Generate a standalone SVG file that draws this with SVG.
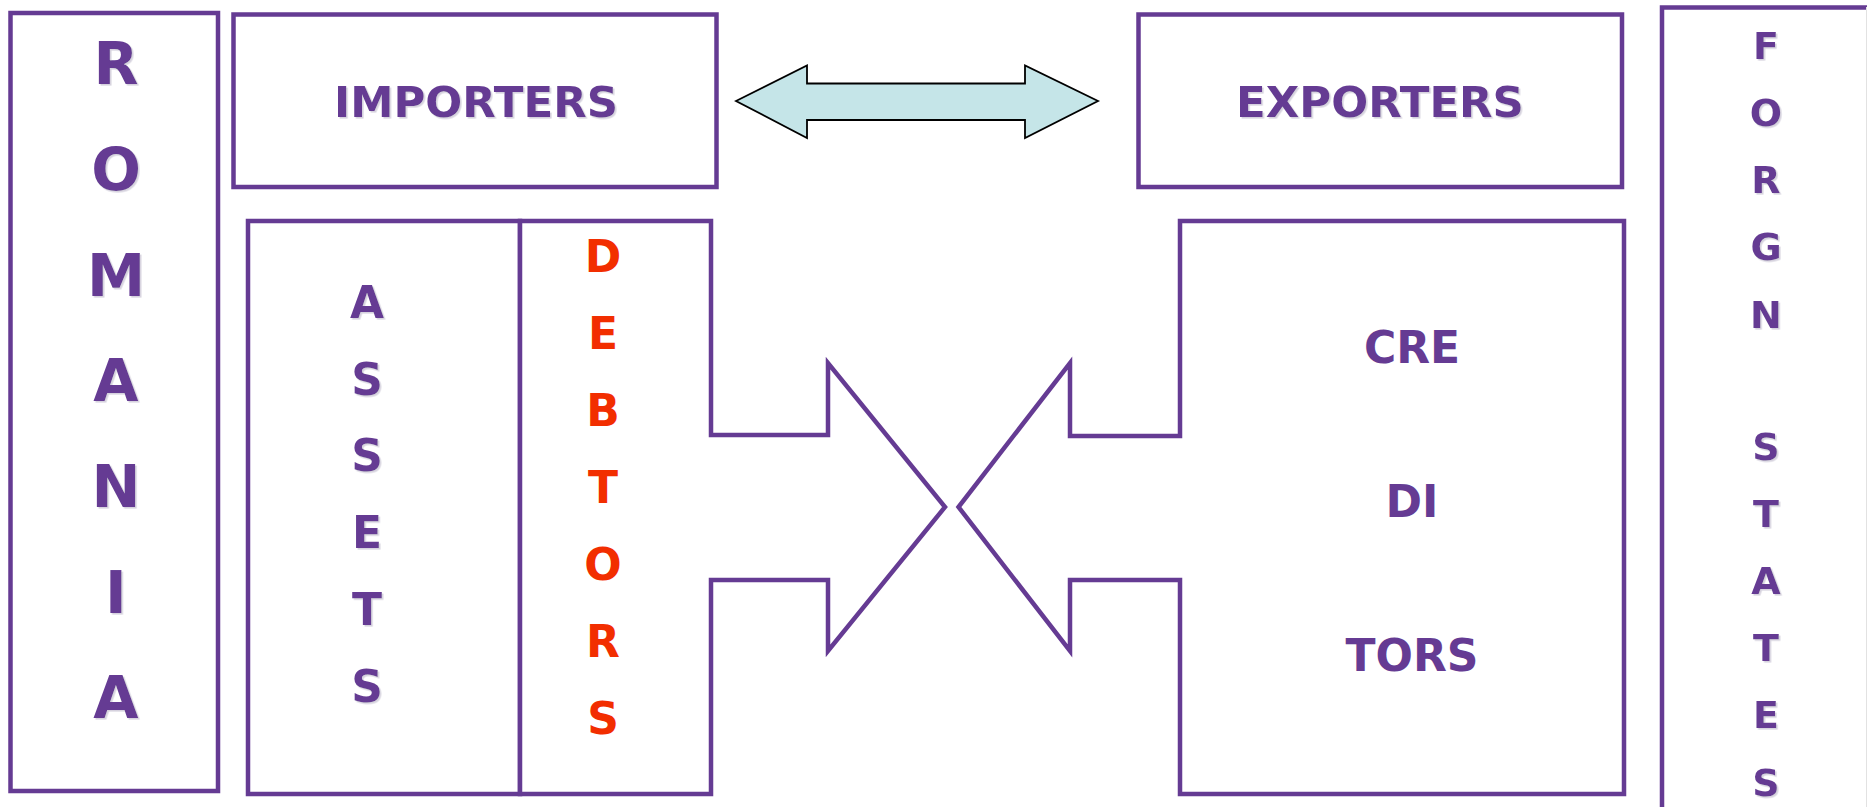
<svg xmlns="http://www.w3.org/2000/svg" width="1867" height="807" viewBox="0 0 1867 807">
  <defs>
    <filter id="soft-shadow" x="-20%" y="-20%" width="140%" height="140%">
      <feDropShadow dx="1.6" dy="1.6" stdDeviation="0.6" flood-color="#cfcbd8" flood-opacity="0.85"/>
    </filter>
  </defs>
  <style>
    .frame { fill: #ffffff; stroke: #653b93; stroke-width: 4.5; stroke-linejoin: miter; }
    .open { fill: none; stroke: #653b93; stroke-width: 4.5; }
    .lbl { font-family: "DejaVu Sans", Verdana, sans-serif; font-weight: bold; text-anchor: middle; fill: #653b93; }
    .shadow { filter: url(#soft-shadow); }
    .red { fill: #f22e00; }
    .flow { fill: #c5e5e8; stroke: #000000; stroke-width: 1.8; stroke-linejoin: miter; }
  </style>

  <rect width="1867" height="807" fill="#ffffff"/>

  <!-- Romania column -->
  <g id="romania">
    <rect class="frame" x="10.5" y="13" width="207.5" height="778"/>
    <g class="lbl shadow" font-size="58.5">
      <text x="116" y="84">R</text>
      <text x="116" y="189.5">O</text>
      <text x="116" y="295.5">M</text>
      <text x="116" y="401">A</text>
      <text x="116" y="507">N</text>
      <text x="116" y="612.5">I</text>
      <text x="116" y="718">A</text>
    </g>
  </g>

  <!-- Importers -->
  <g id="importers">
    <rect class="frame" x="233.5" y="14.5" width="483" height="172.5"/>
    <text class="lbl shadow" x="476" y="116.5" font-size="43.5">IMPORTERS</text>
  </g>

  <!-- Exporters -->
  <g id="exporters">
    <rect class="frame" x="1138.5" y="14.5" width="483.5" height="172.5"/>
    <text class="lbl shadow" x="1380" y="116.5" font-size="43.5">EXPORTERS</text>
  </g>

  <!-- Foreign states column (runs off the bottom and right edges) -->
  <g id="foreign-states">
    <path class="open" d="M1662,812 V7.5 H1870"/>
    <line x1="1866.5" y1="7" x2="1866.5" y2="807" stroke="#e2e2e2" stroke-width="1"/>
    <g class="lbl shadow" font-size="38">
      <text x="1766" y="58.5">F</text>
      <text x="1766" y="125.5">O</text>
      <text x="1766" y="193">R</text>
      <text x="1766" y="260">G</text>
      <text x="1766" y="327.5">N</text>
      <text x="1766" y="460">S</text>
      <text x="1766" y="527">T</text>
      <text x="1766" y="594">A</text>
      <text x="1766" y="661">T</text>
      <text x="1766" y="728">E</text>
      <text x="1766" y="795.5">S</text>
    </g>
  </g>

  <!-- Assets -->
  <g id="assets">
    <rect class="frame" x="248" y="221" width="272" height="573"/>
    <g class="lbl shadow" font-size="44">
      <text x="367" y="318">A</text>
      <text x="367" y="394.5">S</text>
      <text x="367" y="471">S</text>
      <text x="367" y="548">E</text>
      <text x="367" y="625">T</text>
      <text x="367" y="702">S</text>
    </g>
  </g>

  <!-- Debtors arrow block -->
  <g id="debtors">
    <path class="frame" d="M520,221 H711 V435 H828 V363 L945,507 L828,651 V580 H711 V794 H520 Z"/>
    <g class="lbl red" font-size="44">
      <text x="603" y="272">D</text>
      <text x="603" y="349">E</text>
      <text x="603" y="426">B</text>
      <text x="603" y="503">T</text>
      <text x="603" y="580">O</text>
      <text x="603" y="657">R</text>
      <text x="603" y="734">S</text>
    </g>
  </g>

  <!-- Creditors arrow block -->
  <g id="creditors">
    <path class="frame" d="M1624,221 H1180 V436 H1070 V363 L958.5,507 L1070,651 V580 H1180 V794 H1624 Z"/>
    <g class="lbl" font-size="44">
      <text x="1412" y="363">CRE</text>
      <text x="1412" y="517">DI</text>
      <text x="1412" y="671">TORS</text>
    </g>
  </g>

  <!-- Two-way trade flow between importers and exporters -->
  <g id="connectors">
    <polygon class="flow" points="736,101 807,65.5 807,83.5 1025,83.5 1025,65.5 1098,101 1025,138 1025,120 807,120 807,138"/>
  </g>
</svg>
